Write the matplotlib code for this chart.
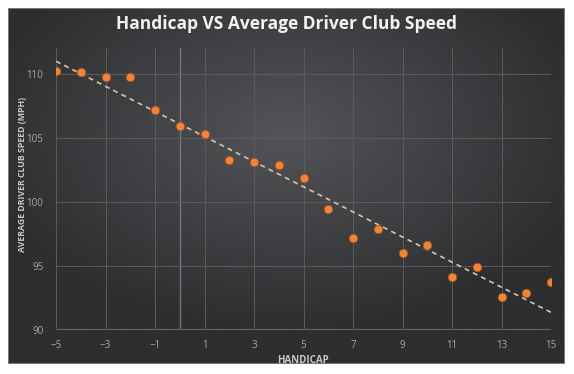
import numpy as np
import matplotlib.pyplot as plt
from matplotlib.patches import Rectangle

# 数据
handicap = [-5, -4, -3, -2, -1, 0, 1, 2, 3, 4, 5, 6, 7, 8, 9, 10, 11, 12, 13, 14, 15]
club_speed = [110.2, 110.15, 109.75, 109.7, 107.2, 105.9, 105.3, 103.3, 103.1, 102.85, 101.85,
              99.45, 97.15, 97.9, 96.0, 96.6, 94.1, 94.9, 92.6, 92.9, 93.75]
x_ticks = [-5, -3, -1, 1, 3, 5, 7, 9, 11, 13, 15]
y_ticks = [90, 95, 100, 105, 110]

plt.rcParams['font.family'] = ['Open Sans', 'DejaVu Sans']

fig = plt.figure(figsize=(5.74, 3.74), dpi=100)
fig.patch.set_facecolor('white')

# 深色背景面板（径向渐变）
bg = fig.add_axes([8 / 574, 1 - 364 / 374, 557 / 574, 356 / 374])
gx, gy = np.meshgrid(np.linspace(-1, 1, 300), np.linspace(-1, 1, 200))
r = np.clip(np.sqrt((gx * 0.9) ** 2 + ((gy + 0.3) * 0.9) ** 2), 0, 1)
c_in = np.array([0x52, 0x54, 0x57]) / 255
c_out = np.array([0x2c, 0x2e, 0x30]) / 255
img = c_in[None, None, :] * (1 - r[..., None]) + c_out[None, None, :] * r[..., None]
bg.imshow(img, aspect='auto', extent=[0, 1, 0, 1])
bg.add_patch(Rectangle((0, 0), 1, 1, fill=False, edgecolor='#8a8a8a', lw=1.2,
                       transform=bg.transAxes))
bg.set_axis_off()

ax = fig.add_axes([56 / 574, 1 - 330 / 374, 495 / 574, 282 / 374])
ax.set_facecolor('none')

# 散点
ax.scatter(handicap, club_speed, s=38, color='#f0843a', edgecolors='#a0501c',
           linewidths=0.6, zorder=3)

# 线性趋势线
k, b = np.polyfit(handicap, club_speed, 1)
xs = np.array([-5, 15])
ax.plot(xs, k * xs + b, linestyle=(0, (3, 2.5)), color='#d8c6a6', lw=1.2, zorder=2)

ax.set_xlim(-5, 15)
ax.set_ylim(90, 112)
ax.set_xticks(x_ticks)
ax.set_yticks(y_ticks)
ax.grid(True, color='#5a5c5e', lw=0.7, zorder=0)
ax.axvline(0, color='#74767a', lw=1, zorder=1)
ax.axhline(90, color='#66686a', lw=1.5, zorder=1)
for s in ax.spines.values():
    s.set_visible(False)
ax.tick_params(length=0, colors='#a8a8a8', labelsize=7)
ax.tick_params(axis='x', pad=7)
ax.tick_params(axis='y', pad=9)

ax.set_xlabel('HANDICAP', color='#c8c8c8', fontsize=7, fontweight='bold', labelpad=3)
ax.set_ylabel('AVERAGE DRIVER CLUB SPEED (MPH)', color='#c8c8c8', fontsize=6.3,
              fontweight='bold')
ax.yaxis.set_label_coords(-0.058, 0.55)

fig.text(0.5, 1 - 24 / 374, 'Handicap VS Average Driver Club Speed', color='#f2f2f2',
         fontsize=12.5, fontweight='bold', ha='center', va='center')

plt.savefig('out.png', dpi=100)
